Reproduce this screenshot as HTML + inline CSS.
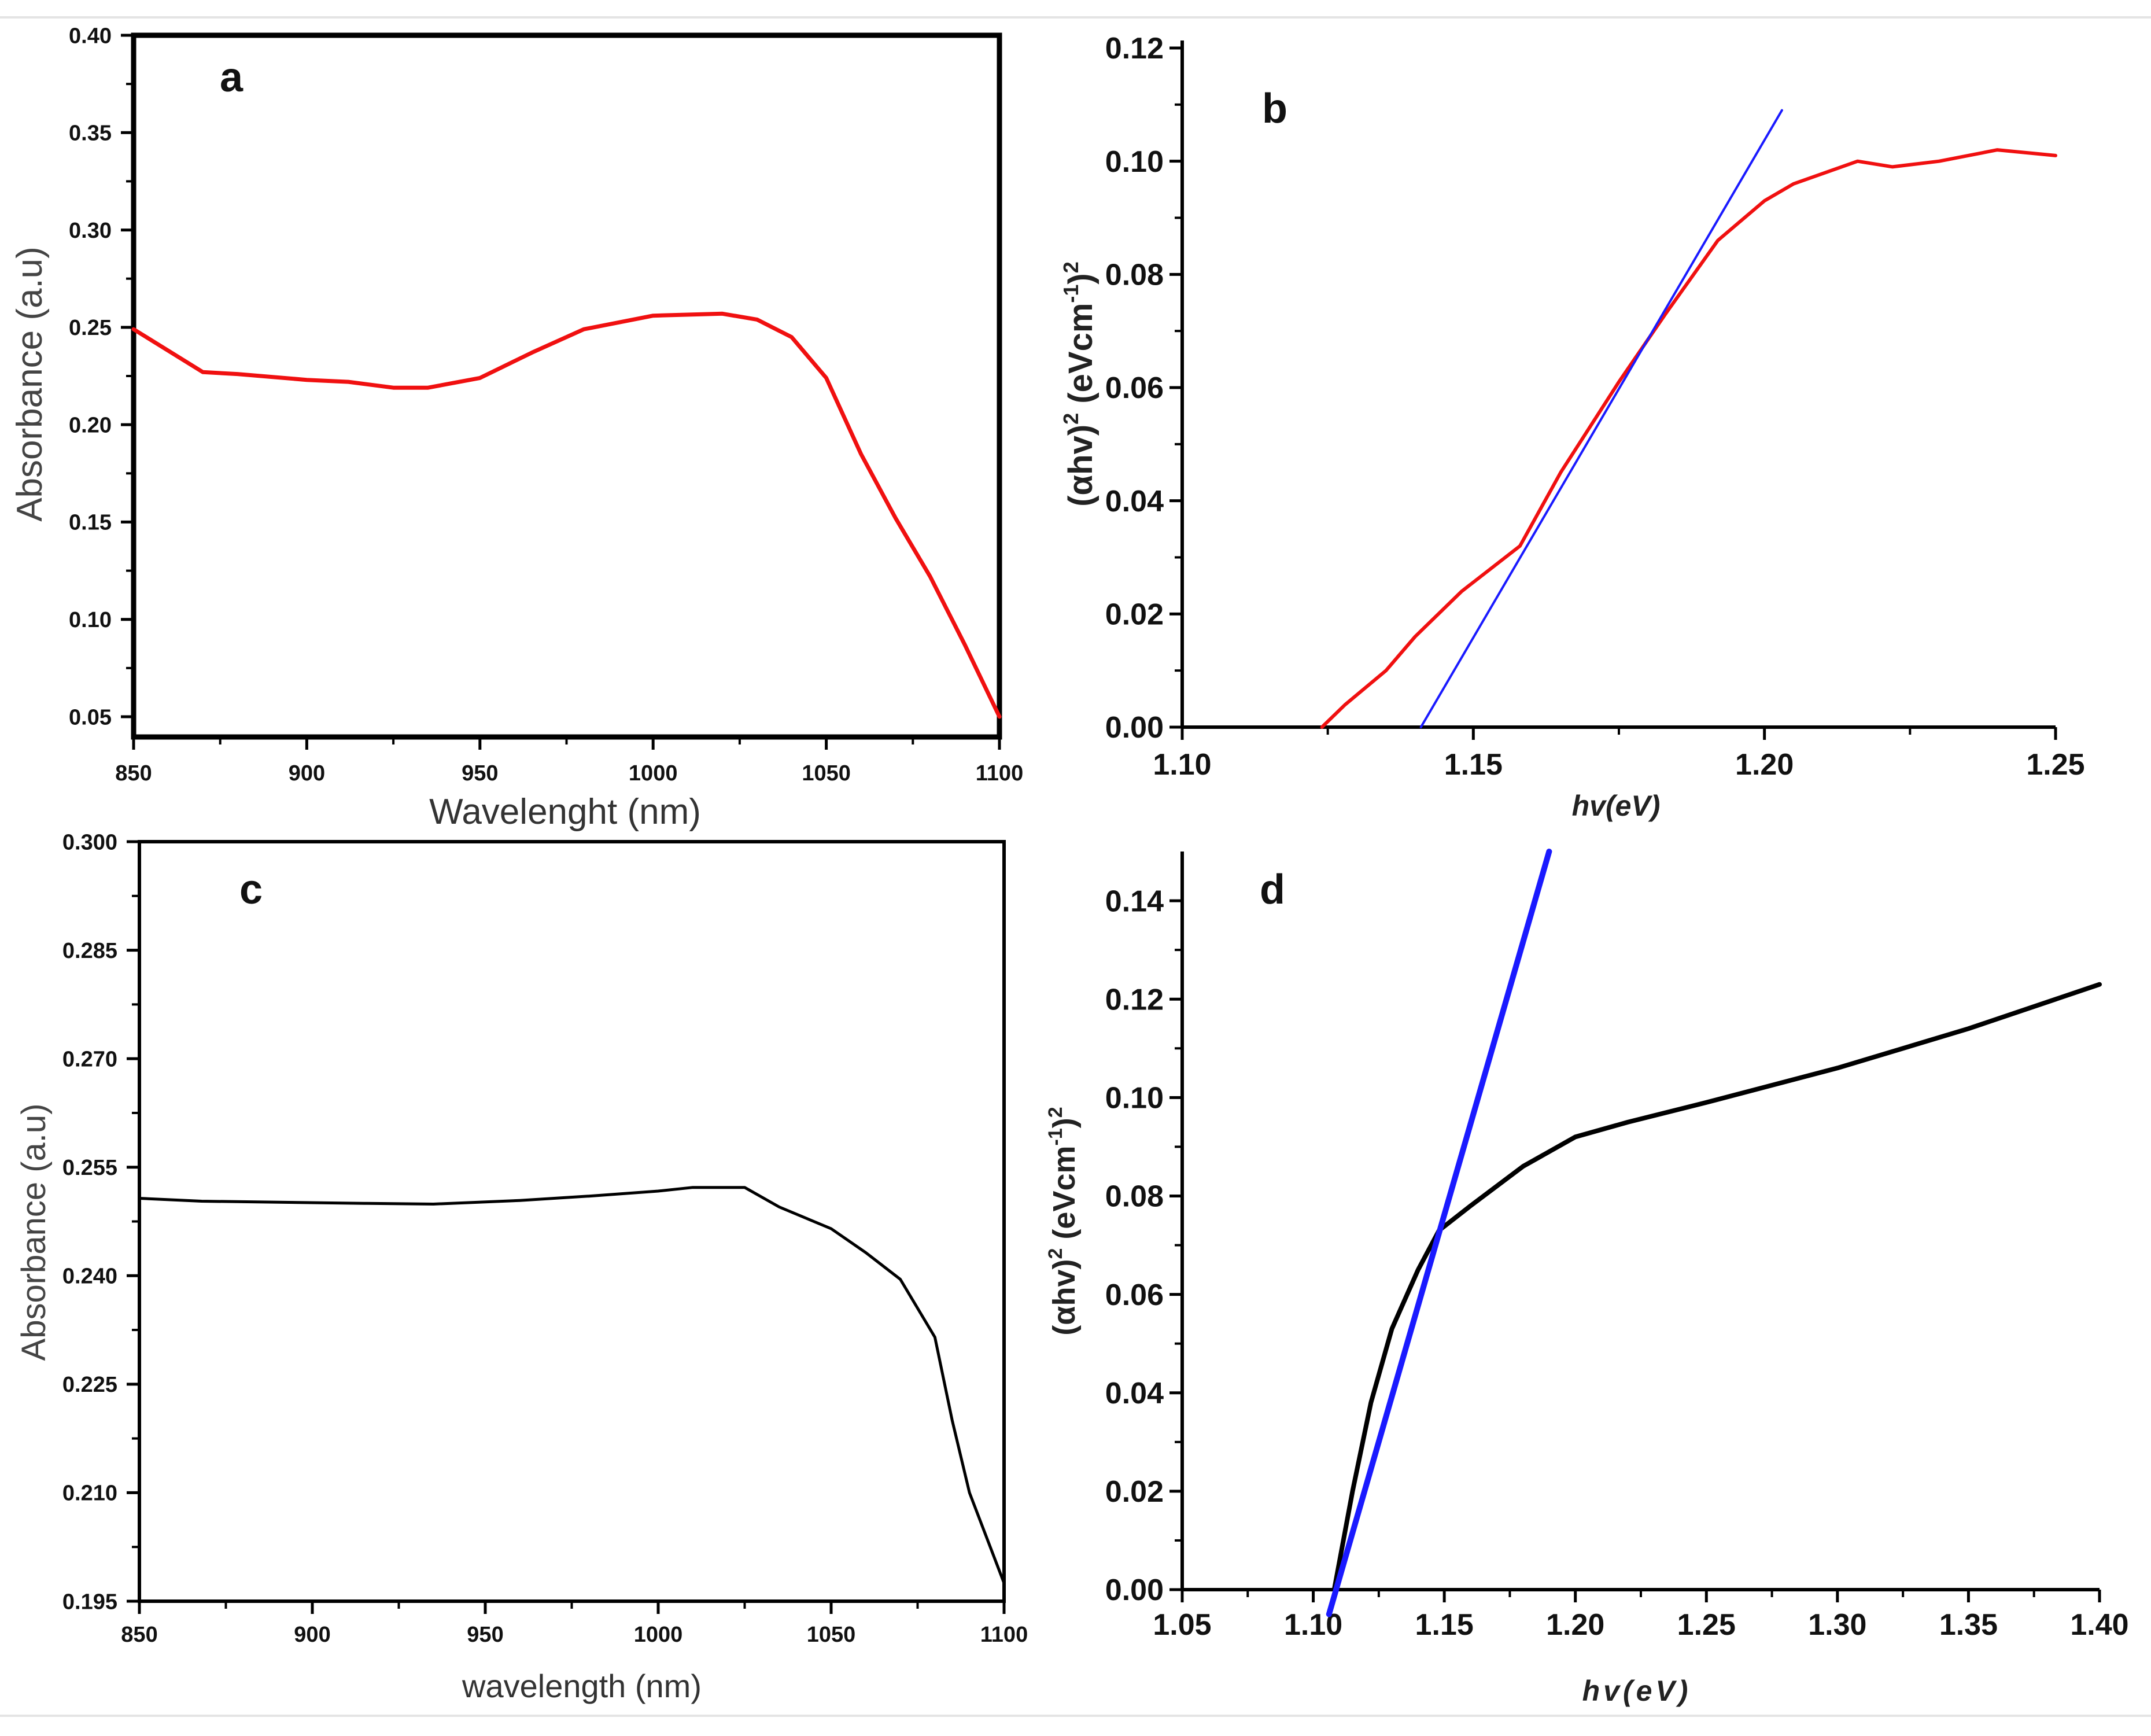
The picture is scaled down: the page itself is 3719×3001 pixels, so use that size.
<!DOCTYPE html>
<html><head><meta charset="utf-8"><style>
html,body{margin:0;padding:0;background:#fff}
svg{display:block}
</style></head><body>
<svg id="fig" width="3719" height="3001" viewBox="0 0 3719 3001" xmlns="http://www.w3.org/2000/svg">
<rect width="3719" height="3001" fill="#fff"/>
<line x1="0" y1="30" x2="3719" y2="30" stroke="#e4e4e4" stroke-width="4"/>
<line x1="0" y1="2966" x2="3719" y2="2966" stroke="#e4e4e4" stroke-width="4"/>
</svg>
<script>
// Panel a data
const aX=[850,870,880,900,912,925,935,950,965,980,1000,1020,1030,1040,1050,1060,1070,1080,1090,1100];
const aY=[0.249,0.227,0.226,0.223,0.222,0.219,0.219,0.224,0.237,0.249,0.256,0.257,0.254,0.245,0.224,0.185,0.152,0.122,0.087,0.05];
const aXTicks=[850,900,950,1000,1050,1100];
const aYTicks=[0.05,0.10,0.15,0.20,0.25,0.30,0.35,0.40];
// Panel b data
const bX=[1.124,1.128,1.135,1.140,1.148,1.158,1.165,1.175,1.183,1.192,1.200,1.205,1.216,1.222,1.230,1.240,1.250];
const bY=[0,0.004,0.010,0.016,0.024,0.032,0.045,0.061,0.073,0.086,0.093,0.096,0.100,0.099,0.100,0.102,0.101];
const bFitX=[1.141,1.203];
const bFitY=[0,0.109];
const bXTicks=[1.10,1.15,1.20,1.25];
const bYTicks=[0,0.02,0.04,0.06,0.08,0.10,0.12];
// Panel c data
const cX=[850,868,915,935,960,980,1000,1010,1025,1035,1050,1060,1070,1080,1085,1090,1100];
const cY=[0.2507,0.2503,0.2500,0.2499,0.2504,0.2510,0.2517,0.2522,0.2522,0.2495,0.2465,0.2432,0.2395,0.2315,0.2200,0.2100,0.1975];
const cXTicks=[850,900,950,1000,1050,1100];
const cYTicks=[0.195,0.210,0.225,0.240,0.255,0.270,0.285,0.300];
// Panel d data
const dX=[1.108,1.115,1.122,1.130,1.140,1.148,1.160,1.180,1.200,1.220,1.250,1.300,1.350,1.400];
const dY=[0,0.020,0.038,0.053,0.065,0.073,0.078,0.086,0.092,0.095,0.099,0.106,0.114,0.123];
const dFitX=[1.106,1.190];
const dFitY=[-0.005,0.150];
const dXTicks=[1.05,1.10,1.15,1.20,1.25,1.30,1.35,1.40];
const dYTicks=[0,0.02,0.04,0.06,0.08,0.10,0.12,0.14];

const NS='http://www.w3.org/2000/svg';
const svg=document.getElementById('fig');
function mk(tag,attrs,parent){const e=document.createElementNS(NS,tag);for(const k in attrs)e.setAttribute(k,attrs[k]);(parent||svg).appendChild(e);return e;}
function scale(d0,d1,r0,r1){return v=>r0+(v-d0)/(d1-d0)*(r1-r0);}

function panel(o){
  const g=mk('g',{});
  
  
  const sx=scale(o.xmin,o.xmax,o.L,o.R), sy=scale(o.ymin,o.ymax,o.B,o.T);
  const tf='"Liberation Sans Narrow","Liberation Sans",sans-serif';
  if(o.box){
    const r=mk('rect',{x:o.L,y:o.T,width:o.R-o.L,height:o.B-o.T,fill:'none',stroke:'#000','stroke-width':o.aw},g);
    
    
  } else {
    const ya=mk('line',{x1:o.L,y1:o.Ttop,x2:o.L,y2:o.B,stroke:'#000','stroke-width':o.aw},g);
    
    
    const xa=mk('line',{x1:o.L,y1:o.B,x2:o.R,y2:o.B,stroke:'#000','stroke-width':o.aw},g);
    
    
  }
  o.xt.forEach((v,i)=>{
    const x=sx(v);
    mk('line',{x1:x,y1:o.B,x2:x,y2:o.B+22,stroke:'#000','stroke-width':5},g);
    if(i<o.xt.length-1){const xm=sx((v+o.xt[i+1])/2);mk('line',{x1:xm,y1:o.B,x2:xm,y2:o.B+13,stroke:'#000','stroke-width':4},g);}
    const t=mk('text',{x:x,y:o.B+o.xlo,'text-anchor':'middle','font-family':tf,'font-weight':'bold','font-size':o.tfs,fill:'#111'},g);
    t.textContent=o.xfmt(v);
    
    
  });
  o.yt.forEach((v,i)=>{
    const y=sy(v);
    mk('line',{x1:o.L,y1:y,x2:o.L-22,y2:y,stroke:'#000','stroke-width':5},g);
    if(i<o.yt.length-1){const ym=sy((v+o.yt[i+1])/2);mk('line',{x1:o.L,y1:ym,x2:o.L-13,y2:ym,stroke:'#000','stroke-width':4},g);}
    const t=mk('text',{x:o.L-o.ylo,y:y+o.tfs*0.35,'text-anchor':'end','font-family':tf,'font-weight':'bold','font-size':o.tfs,fill:'#111'},g);
    t.textContent=o.yfmt(v);
    
    
  });
  o.series.forEach(s=>{
    const d=s.x.map((v,i)=>(i?'L':'M')+sx(v).toFixed(1)+' '+sy(s.y[i]).toFixed(1)).join(' ');
    const p=mk('path',{d:d,fill:'none',stroke:s.c,'stroke-width':s.w,'stroke-linejoin':'round','stroke-linecap':'round'},g);
    
    
  });
  return g;
}
const f2=v=>v.toFixed(2), f3=v=>v.toFixed(3);
panel({name:'panel-a',L:231,R:1728,T:61,B:1274,xmin:850,xmax:1100,ymin:0.0396,ymax:0.40,box:true,aw:9,xt:aXTicks,yt:aYTicks,xfmt:v=>String(v),yfmt:f2,tfs:38,xlo:75,ylo:38,
  series:[{x:aX,y:aY,c:'#f01010',w:7,n:'absorbance-line-a'}]});
panel({name:'panel-b',L:2044,R:3554,T:83,Ttop:70,B:1257,xmin:1.10,xmax:1.25,ymin:0,ymax:0.12,box:false,aw:6,xt:bXTicks,yt:bYTicks,xfmt:f2,yfmt:f2,tfs:52,xlo:82,ylo:32,
  series:[{x:bX,y:bY,c:'#f01010',w:6,n:'tauc-curve-b'},{x:bFitX,y:bFitY,c:'#1a1aff',w:4,n:'tangent-line-b'}]});
panel({name:'panel-c',L:241,R:1736,T:1455,B:2768,xmin:850,xmax:1100,ymin:0.195,ymax:0.300,box:true,aw:6,xt:cXTicks,yt:cYTicks,xfmt:v=>String(v),yfmt:f3,tfs:38,xlo:70,ylo:38,
  series:[{x:cX,y:cY,c:'#000',w:5,n:'absorbance-line-c'}]});
panel({name:'panel-d',L:2044,R:3630,T:1472,Ttop:1472,B:2748,xmin:1.05,xmax:1.40,ymin:0,ymax:0.15,box:false,aw:6,xt:dXTicks,yt:dYTicks,xfmt:f2,yfmt:f2,tfs:52,xlo:78,ylo:32,
  series:[{x:dX,y:dY,c:'#000',w:8,n:'tauc-curve-d'},{x:dFitX,y:dFitY,c:'#1a1aff',w:10,n:'tangent-line-d'}]});
</script>
<svg style="position:absolute;left:0;top:0" width="3719" height="3001">
<g font-family="Liberation Sans, sans-serif" font-weight="bold" font-size="72" fill="#111">
<text x="380" y="158">a</text>
<text x="2182" y="212">b</text>
<text x="414" y="1562">c</text>
<text x="2178" y="1562">d</text>
</g>
<text transform="translate(72,664) rotate(-90)" text-anchor="middle" font-family="Liberation Sans, sans-serif" font-size="62" fill="#444">Absorbance (a.u)</text>
<text x="977" y="1424" text-anchor="middle" font-family="Liberation Sans Narrow, Liberation Sans, sans-serif" font-size="62" fill="#333">Wavelenght (nm)</text>
<text transform="translate(1888,664) rotate(-90)" text-anchor="middle" font-family="Liberation Sans, sans-serif" font-weight="bold" font-size="58" fill="#222">(αhv)<tspan dy="-24" font-size="36">2</tspan><tspan dy="24"> (eVcm</tspan><tspan dy="-24" font-size="36">-1</tspan><tspan dy="24">)</tspan><tspan dy="-24" font-size="36">2</tspan></text>
<text x="2794" y="1410" text-anchor="middle" font-family="Liberation Sans, sans-serif" font-weight="bold" font-style="italic" font-size="50" fill="#222">hv(eV)</text>
<text transform="translate(78,2130) rotate(-90)" text-anchor="middle" font-family="Liberation Sans, sans-serif" font-size="58" fill="#444">Absorbance (a.u)</text>
<text x="1006" y="2934" text-anchor="middle" font-family="Liberation Sans Narrow, Liberation Sans, sans-serif" font-size="56" fill="#333">wavelength (nm)</text>
<text transform="translate(1858,2111) rotate(-90)" text-anchor="middle" font-family="Liberation Sans, sans-serif" font-weight="bold" font-size="54" fill="#222">(αhv)<tspan dy="-22" font-size="34">2</tspan><tspan dy="22"> (eVcm</tspan><tspan dy="-22" font-size="34">-1</tspan><tspan dy="22">)</tspan><tspan dy="-22" font-size="34">2</tspan></text>
<text x="2830" y="2940" text-anchor="middle" font-family="Liberation Sans, sans-serif" font-weight="bold" font-style="italic" font-size="50" letter-spacing="6" fill="#222">hv(eV)</text>
</svg>
</body></html>
